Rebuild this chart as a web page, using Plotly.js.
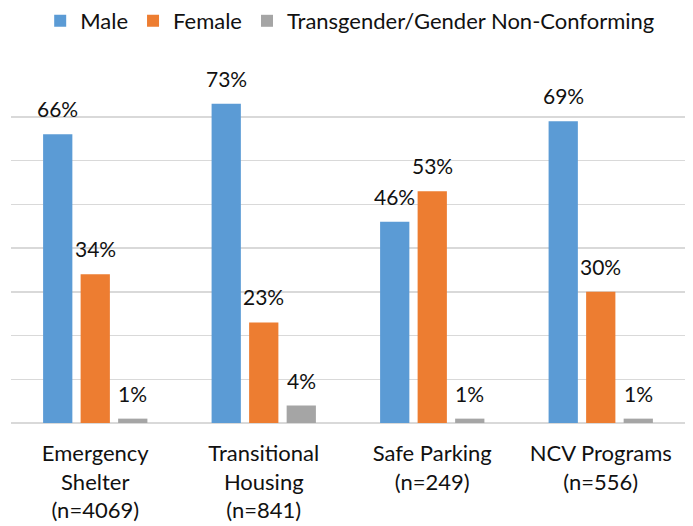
<!DOCTYPE html>
<html>
<head>
<meta charset="utf-8">
<script src="https://cdn.plot.ly/plotly-3.0.1.min.js"></script>
<style>html,body{margin:0;padding:0;background:#fff;}#chart{width:693px;height:526px;}</style>
</head>
<body>
<div id="chart"></div>
<script>
const categories = ["Emergency<br>Shelter<br>(n=4069)", "Transitional<br>Housing<br>(n=841)", "Safe Parking<br>(n=249)", "NCV Programs<br>(n=556)"];
const seriesNames = ["Male", "Female", "Transgender/Gender Non-Conforming"];
const maleValues = [66, 73, 46, 69];
const femaleValues = [34, 23, 53, 30];
const transValues = [1, 4, 1, 1];
const colors = ["#5B9BD5", "#ED7D31", "#A5A5A5"];

const seriesValues = [maleValues, femaleValues, transValues];
const FONT = "Lato, 'Open Sans', sans-serif";

const traces = seriesValues.map((vals, i) => ({
  type: "bar",
  name: seriesNames[i],
  x: categories,
  y: vals,
  marker: {color: colors[i]},
  hoverinfo: "skip"
}));

const slot = 37.5;
const annotations = [];
seriesValues.forEach((vals, i) => {
  vals.forEach((v, j) => {
    annotations.push({
      x: categories[j], y: v, xref: "x", yref: "y",
      text: v + "%", showarrow: false,
      xshift: (i - 1) * slot, yshift: 11,
      yanchor: "bottom", xanchor: "center",
      font: {family: FONT, size: 21, color: "#111"}
    });
  });
});

const layout = {
  width: 693, height: 526,
  margin: {l: 11, r: 8, t: 73, b: 103},
  paper_bgcolor: "#fff", plot_bgcolor: "#fff",
  barmode: "group", bargap: 0.332, bargroupgap: 0.22,
  showlegend: true,
  legend: {
    orientation: "h", xref: "container", yref: "container",
    x: 0.058, y: 1.0, xanchor: "left", yanchor: "top",
    font: {family: FONT, size: 22, color: "#111"},
    traceorder: "normal"
  },
  xaxis: {
    showgrid: false, zeroline: false, showline: false,
    ticks: "", tickfont: {family: FONT, size: 22, color: "#111"},
    ticklabelstandoff: 15,
    fixedrange: true
  },
  yaxis: {
    range: [0, 80], dtick: 10, tick0: 0,
    showgrid: true, gridcolor: "#D9D9D9", gridwidth: 1.5,
    zeroline: true, zerolinecolor: "#D9D9D9", zerolinewidth: 1.5,
    showticklabels: false, ticks: "", fixedrange: true
  },
  annotations: annotations
};

Plotly.newPlot("chart", traces, layout, {displayModeBar: false, staticPlot: true});
</script>
</body>
</html>
